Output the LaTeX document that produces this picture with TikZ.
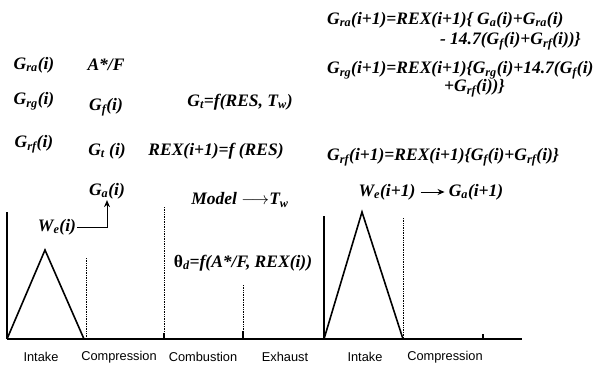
\documentclass[tikz,border=0pt]{standalone}
\usepackage{fontspec}
\setmainfont{Liberation Serif}
\setsansfont{Liberation Sans}
\usetikzlibrary{positioning, calc, arrows.meta}
\tikzset{
    eqnode/.style={font=\fontsize{17.5}{19}\selectfont\bfseries\itshape, inner sep=1pt},
    eqleft/.style={eqnode, anchor=west},
    eqright/.style={eqnode, anchor=east},
    phase/.style={font=\fontsize{12.8}{14}\selectfont\sffamily, inner sep=1pt},
    stroke/.style={line width=1.6pt, black},
    dotline/.style={densely dotted, line width=0.7pt},
    arrow/.style={-{Stealth[length=7pt, width=6pt]}, line width=1pt},
}
\newcommand{\sub}[1]{\textsubscript{#1}}

\begin{document}
\begin{tikzpicture}[x=1pt, y=-1pt]
    \useasboundingbox (0,0) rectangle (607,364);

    % Grandezze del ciclo i
    \node[eqnode] (gra) at (34,65) {G\sub{ra}(i)};
    \node[eqnode] (af) at (106,65) {A*/F};
    \node[eqnode] (grg) at (34,101) {G\sub{rg}(i)};
    \node[eqnode] (gf) at (106,107) {G\sub{f}(i)};
    \node[eqnode] (gtf) at (240,102) {G\sub{t}=f(RES, T\sub{w})};
    \node[eqnode] (grf) at (34,144) {G\sub{rf}(i)};
    \node[eqnode] (gt) at (107,151) {G\sub{t} (i)};
    \node[eqnode] (rex) at (216,151) {REX(i+1)=f (RES)};
    \node[eqnode] (ga) at (107,191) {G\sub{a}(i)};
    \node[eqnode] (we) at (57,227) {W\sub{e}(i)};
    \node[eqnode] (model) at (240,200) {Model $\longrightarrow$T\sub{w}};
    \node[eqnode] (theta) at (243,263) {\textup{θ}\sub{d}=f(A*/F, REX(i))};

    % Aggiornamento per il ciclo i+1
    \node[eqleft] (gra1) at (326,20) {G\sub{ra}(i+1)=REX(i+1)\{ G\sub{a}(i)+G\sub{ra}(i)};
    \node[eqright] (gra2) at (582,41) {- 14.7(G\sub{f}(i)+G\sub{rf}(i))\}};
    \node[eqleft] (grg1) at (326,70) {G\sub{rg}(i+1)=REX(i+1)\{G\sub{rg}(i)+14.7(G\sub{f}(i)};
    \node[eqleft] (grg2) at (443,88) {+G\sub{rf}(i))\}};
    \node[eqleft] (grf1) at (326,157) {G\sub{rf}(i+1)=REX(i+1)\{G\sub{f}(i)+G\sub{rf}(i)\}};
    \node[eqnode] (we2) at (387,192) {W\sub{e}(i+1)};
    \node[eqnode] (ga2) at (476,192) {G\sub{a}(i+1)};

    % Frecce
    \draw[arrow] (we.east) -| (ga.south);
    \draw[arrow, shorten <=4pt, shorten >=3pt] (we2) -- (ga2);

    % Asse delle fasi e profili di aspirazione
    \draw[stroke] (7,339) -- (522,339);
    \draw[stroke] (7,212) -- (7,339);
    \draw[stroke] (7,339) -- (45,250) -- (84,339);
    \draw[stroke] (324,216) -- (324,339);
    \draw[stroke] (324,339) -- (362,212) -- (403,339);

    % Separatori delle fasi
    \draw[dotline] (86,258) -- (86,339);
    \draw[dotline] (164,207) -- (164,339);
    \draw[dotline] (243,285) -- (243,339);
    \draw[dotline] (403,218) -- (403,339);
    \draw[stroke] (164,333) -- (164,339);
    \draw[stroke] (243,331) -- (243,339);
    \draw[stroke] (483,334) -- (483,339);

    % Nomi delle fasi
    \node[phase] (in1) at (41,357) {Intake};
    \node[phase] (co1) at (119,357) {Compression};
    \node[phase] (cb1) at (203,357) {Combustion};
    \node[phase] (ex1) at (285,357) {Exhaust};
    \node[phase] (in2) at (365,357) {Intake};
    \node[phase] (co2) at (445,357) {Compression};
\end{tikzpicture}
\end{document}
